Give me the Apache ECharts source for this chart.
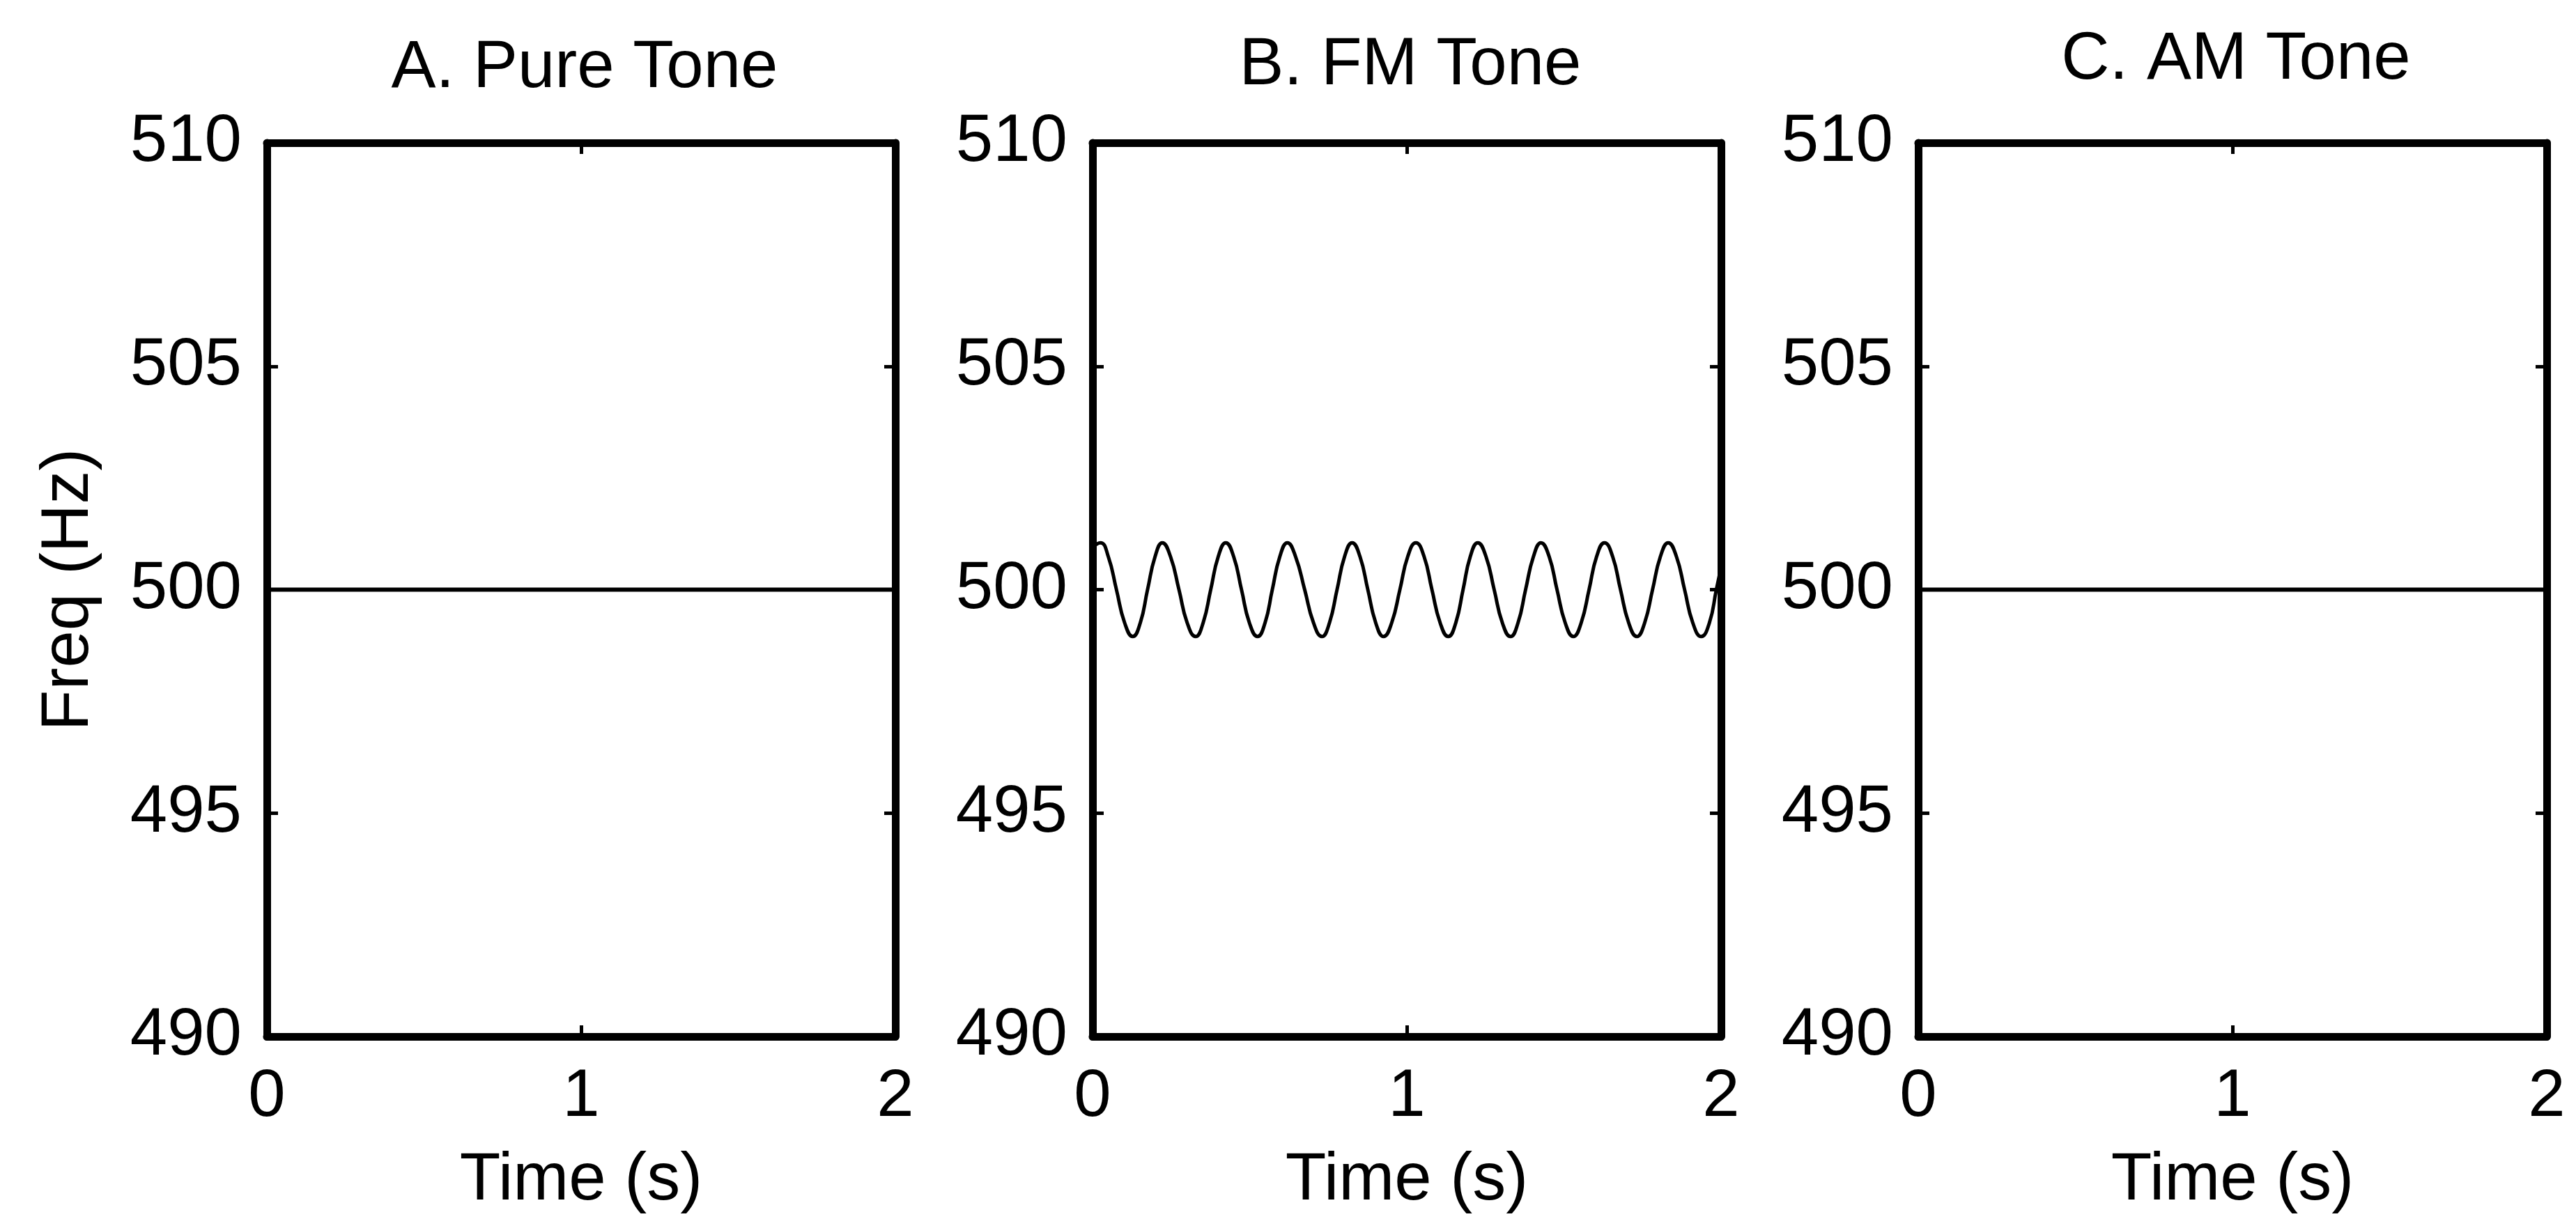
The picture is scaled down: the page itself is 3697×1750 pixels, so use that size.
<!DOCTYPE html>
<html>
<head>
<meta charset="utf-8">
<script src="https://cdn.jsdelivr.net/npm/echarts@6/dist/echarts.min.js"></script>
<style>
html,body{margin:0;padding:0;background:#fff;}
#chart{width:3697px;height:1750px;}
</style>
</head>
<body>
<div id="chart"></div>
<script>
// ---- data ----
const panelTitles = ['A. Pure Tone', 'B. FM Tone', 'C. AM Tone'];
const xTicks = [0, 1, 2];
const yTicks = [490, 495, 500, 505, 510];
const xAxisName = 'Time (s)';
const yAxisName = 'Freq (Hz)';

// A. pure tone: constant 500 Hz
const pureTime = [0, 2];
const pureFreq = [500, 500];

// B. FM tone: read peaks / troughs / crossings
const fmTime = [0.000,0.025,0.050,0.076,0.102,0.128,0.152,0.175,0.199,0.222,
  0.248,0.275,0.301,0.328,0.352,0.376,0.400,0.424,0.449,0.474,
  0.499,0.525,0.549,0.572,0.596,0.620,0.646,0.675,0.703,0.730,
  0.754,0.778,0.802,0.826,0.851,0.876,0.901,0.926,0.952,0.978,
  1.003,1.029,1.055,1.080,1.106,1.132,1.156,1.179,1.202,1.226,
  1.252,1.278,1.304,1.330,1.354,1.378,1.403,1.427,1.453,1.478,
  1.504,1.530,1.555,1.580,1.604,1.629,1.655,1.680,1.706,1.732,
  1.757,1.782,1.807,1.832,1.858,1.884,1.910,1.937,1.963,1.985,2.000];
const fmFreq = [500.95,501.05,500.74,500.00,499.26,498.95,499.26,500.00,500.74,501.05,
  500.74,500.00,499.26,498.95,499.26,500.00,500.74,501.05,500.74,500.00,
  499.26,498.95,499.26,500.00,500.74,501.05,500.74,500.00,499.26,498.95,
  499.26,500.00,500.74,501.05,500.74,500.00,499.26,498.95,499.26,500.00,
  500.74,501.05,500.74,500.00,499.26,498.95,499.26,500.00,500.74,501.05,
  500.74,500.00,499.26,498.95,499.26,500.00,500.74,501.05,500.74,500.00,
  499.26,498.95,499.26,500.00,500.74,501.05,500.74,500.00,499.26,498.95,
  499.26,500.00,500.74,501.05,500.74,500.00,499.26,498.95,499.26,500.00,500.50];

// C. AM tone: constant 500 Hz
const amTime = [0, 2];
const amFreq = [500, 500];

// ---- layout ----
const FONT = "'Liberation Sans', Arial, Helvetica, sans-serif";
const FS = 96;
const gridLefts = [383, 1568, 2753];
const titleTops = [46, 42, 34];
const gridTop = 205, gridW = 902, gridH = 1283;
const AXW = 11;

const seriesData = [
  [pureTime, pureFreq, false],
  [fmTime, fmFreq, true],
  [amTime, amFreq, false]
];

const grids = [], xAxes = [], yAxes = [], series = [], titles = [];
const lineStyle = {color: '#000', width: AXW};
const tickStyle = {inside: true, length: 16, lineStyle: {color: '#000', width: 5}};

for (let g = 0; g < 3; g++) {
  grids.push({left: gridLefts[g], top: gridTop, width: gridW, height: gridH, containLabel: false, show: false});
  titles.push({
    text: panelTitles[g], left: gridLefts[g] + gridW / 2, top: titleTops[g], textAlign: 'center',
    textStyle: {fontFamily: FONT, fontSize: FS, fontWeight: 'normal', color: '#000'}
  });
  // bottom x
  xAxes.push({
    type: 'value', gridIndex: g, position: 'bottom', min: xTicks[0], max: xTicks[xTicks.length - 1], interval: 1,
    name: xAxisName, nameLocation: 'middle', nameGap: 160,
    nameTextStyle: {fontFamily: FONT, fontSize: FS, color: '#000'},
    axisLine: {show: true, onZero: false, lineStyle: lineStyle},
    axisTick: tickStyle, splitLine: {show: false},
    axisLabel: {show: true, margin: 40, fontFamily: FONT, fontSize: FS, color: '#000', showMinLabel: true, showMaxLabel: true}
  });
  // top x (box)
  xAxes.push({
    type: 'value', gridIndex: g, position: 'top', min: xTicks[0], max: xTicks[xTicks.length - 1], interval: 1,
    axisLine: {show: true, onZero: false, lineStyle: lineStyle},
    axisTick: tickStyle, splitLine: {show: false}, axisLabel: {show: false}
  });
  // left y
  yAxes.push({
    type: 'value', gridIndex: g, position: 'left', min: yTicks[0], max: yTicks[yTicks.length - 1], interval: 5,
    name: g === 0 ? yAxisName : '', nameLocation: 'middle', nameGap: 235,
    nameTextStyle: {fontFamily: FONT, fontSize: FS, color: '#000'},
    axisLine: {show: true, onZero: false, lineStyle: lineStyle},
    axisTick: tickStyle, splitLine: {show: false},
    axisLabel: {show: true, margin: 36, fontFamily: FONT, fontSize: FS, color: '#000', showMinLabel: true, showMaxLabel: true}
  });
  // right y (box)
  yAxes.push({
    type: 'value', gridIndex: g, position: 'right', min: yTicks[0], max: yTicks[yTicks.length - 1], interval: 5,
    axisLine: {show: true, onZero: false, lineStyle: lineStyle},
    axisTick: tickStyle, splitLine: {show: false}, axisLabel: {show: false}
  });
  const [tArr, fArr, smooth] = seriesData[g];
  series.push({
    type: 'line', xAxisIndex: 2 * g, yAxisIndex: 2 * g,
    data: tArr.map((t, i) => [t, fArr[i]]),
    showSymbol: false, symbol: 'none', smooth: smooth ? 0.5 : false,
    lineStyle: {color: '#000', width: smooth ? 5 : 6},
    silent: true, animation: false, z: 1
  });
}

const chart = echarts.init(document.getElementById('chart'), null, {renderer: 'canvas'});
chart.setOption({
  backgroundColor: '#fff',
  animation: false,
  title: titles,
  grid: grids,
  xAxis: xAxes,
  yAxis: yAxes,
  series: series
});
</script>
</body>
</html>
